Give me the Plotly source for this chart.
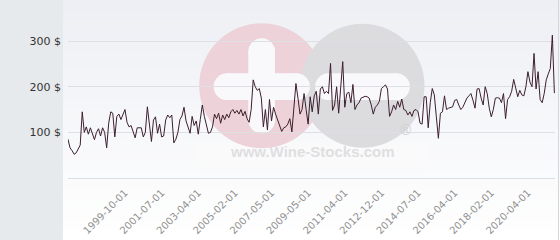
import plotly.graph_objects as go

# ---------------- data ----------------
prices = [
    85, 66, 60, 52, 55, 62, 72, 145, 100, 112,
    96, 110, 95, 84, 100, 108, 92, 110, 100, 66,
    120, 145, 142, 90, 135, 140, 128, 140, 150, 122,
    112, 115, 100, 88, 110, 110, 110, 90, 100, 156,
    110, 80, 127, 134, 98, 118, 90, 92, 127, 138,
    132, 138, 77, 85, 100, 128, 136, 155, 125, 110,
    98, 135, 115, 125, 96, 128, 160, 135, 115, 98,
    100, 112, 140, 130, 142, 120, 138, 128, 140, 132,
    145, 150, 142, 148, 140, 150, 136, 146, 130, 122,
    150, 215, 200, 192, 196, 175, 112, 150, 105, 172,
    125, 155, 140, 128, 118, 102, 110, 112, 118, 130,
    101, 150, 207, 175, 140, 150, 185, 150, 118, 178,
    145, 180, 190, 140, 195, 200, 185, 190, 185, 251,
    148, 160, 200, 142, 195, 255, 155, 185, 188, 165,
    205, 150, 160, 165, 175, 178, 179, 178, 175, 160,
    140, 155, 160, 168, 196, 200, 204, 195, 135, 145,
    160, 150, 168, 155, 173, 150, 148, 138, 145, 135,
    148, 150, 145, 120, 118, 178, 178, 110, 165, 196,
    182, 134, 87, 142, 145, 180, 150, 153, 155, 156,
    170, 172, 160, 150, 155, 165, 175, 180, 185, 170,
    153, 195, 196, 175, 160, 200, 185, 153, 134, 150,
    175, 176, 175, 165, 185, 130, 172, 178, 190, 216,
    200, 178, 192, 182, 180, 200, 233, 210, 200, 273,
    195, 233, 172, 165, 185, 215, 228, 240, 313, 186,
]
tick_labels = [
    "1999-10-01", "2001-07-01", "2003-04-01", "2005-02-01",
    "2007-05-01", "2009-05-01", "2011-04-01", "2012-12-01",
    "2014-07-01", "2016-04-01", "2018-02-01", "2020-04-01",
]
first_tick = 28
tick_every = 18
y_ticks = [100, 200, 300]
y_tick_text = ["100 $", "200 $", "300 $"]

# ---------------- layout helpers ----------------
W, H = 560, 240
L, R, T, B = 68, 5, 0, 62
PW, PH = W - L - R, H - T - B


def fx(x):
    return (x - L) / PW


def fy(y):
    return (T + PH - y) / PH


shapes = []


def rect(x0, y0, x1, y1, color):
    shapes.append(dict(type="rect", xref="paper", yref="paper", layer="below",
                       x0=fx(x0), x1=fx(x1), y0=fy(y1), y1=fy(y0),
                       fillcolor=color, line=dict(width=0)))


def circ(cx, cy, r, color):
    shapes.append(dict(type="circle", xref="paper", yref="paper", layer="below",
                       x0=fx(cx - r), x1=fx(cx + r), y0=fy(cy + r), y1=fy(cy - r),
                       fillcolor=color, line=dict(width=0)))


# gradient background of the chart area
top_c, bot_c = (237, 239, 244), (255, 255, 255)
bands = 24
for k in range(bands):
    t = (k + 0.5) / bands
    c = tuple(round(a + (b - a) * t) for a, b in zip(top_c, bot_c))
    rect(63, k * H / bands, W, (k + 1) * H / bands + 0.5, "rgb(%d,%d,%d)" % c)

# left panel
rect(0, 0, 63, H, "#e7eaed")

# watermark
rect(197, 143, 427, 173, "#fafafb")
circ(261.7, 85.7, 62.5, "#edd3d9")
circ(362.5, 85.7, 62, "#dcdcde")
white = "#f9f9fb"
# plus
rect(248.3, 51.6, 275.0, 120.0, white)
circ(261.7, 51.6, 13.35, white)
circ(261.7, 120.0, 13.35, white)
rect(227.0, 73.3, 296.5, 100.0, white)
circ(227.0, 86.7, 13.35, white)
circ(296.5, 86.7, 13.35, white)
# minus
rect(328.5, 73.3, 396.5, 100.0, white)
circ(328.5, 86.7, 13.35, white)
circ(396.5, 86.7, 13.35, white)

# right border
shapes.append(dict(type="line", xref="paper", yref="paper", layer="above",
                   x0=fx(558.5), x1=fx(558.5), y0=fy(H), y1=fy(0),
                   line=dict(color="#d4d6da", width=1)))

annotations = [
    dict(text="<b>www.Wine-Stocks.com</b>", xref="paper", yref="paper",
         x=fx(312), y=fy(162), showarrow=False,
         font=dict(family="Liberation Sans", size=15, color="#dfdfe1")),
    dict(text="<b>®</b>", xref="paper", yref="paper",
         x=fx(413), y=fy(140), showarrow=False,
         font=dict(family="Liberation Sans", size=15, color="#d3d3d5")),
]

x_idx = list(range(len(prices)))
tick_pos = [first_tick + i * tick_every for i in range(len(tick_labels))]

fig = go.Figure()
fig.add_trace(go.Scatter(x=x_idx, y=prices, mode="lines",
                         line=dict(color="#3d1f2d", width=1),
                         hoverinfo="skip", showlegend=False))

fig.update_layout(
    width=W, height=H, autosize=False,
    margin=dict(l=L, r=R, t=T, b=B, pad=0),
    paper_bgcolor="white",
    plot_bgcolor="rgba(0,0,0,0)",
    shapes=shapes,
    annotations=annotations,
    showlegend=False,
    xaxis=dict(range=[0, 239.3], tickmode="array", tickvals=tick_pos,
               ticktext=tick_labels, tickangle=-45, showgrid=False,
               zeroline=False, showline=True, linecolor="#dedfe3", linewidth=1,
               ticks="", ticklabelstandoff=4,
               tickfont=dict(family="DejaVu Sans", size=10, color="#909090")),
    yaxis=dict(range=[0, 390], tickmode="array", tickvals=y_ticks,
               ticktext=y_tick_text, showgrid=True, gridcolor="#dedfe3",
               gridwidth=1, zeroline=False, ticks="", ticklabelstandoff=6,
               tickfont=dict(family="DejaVu Sans", size=11, color="#333333")),
)

fig.write_html("out.html")
